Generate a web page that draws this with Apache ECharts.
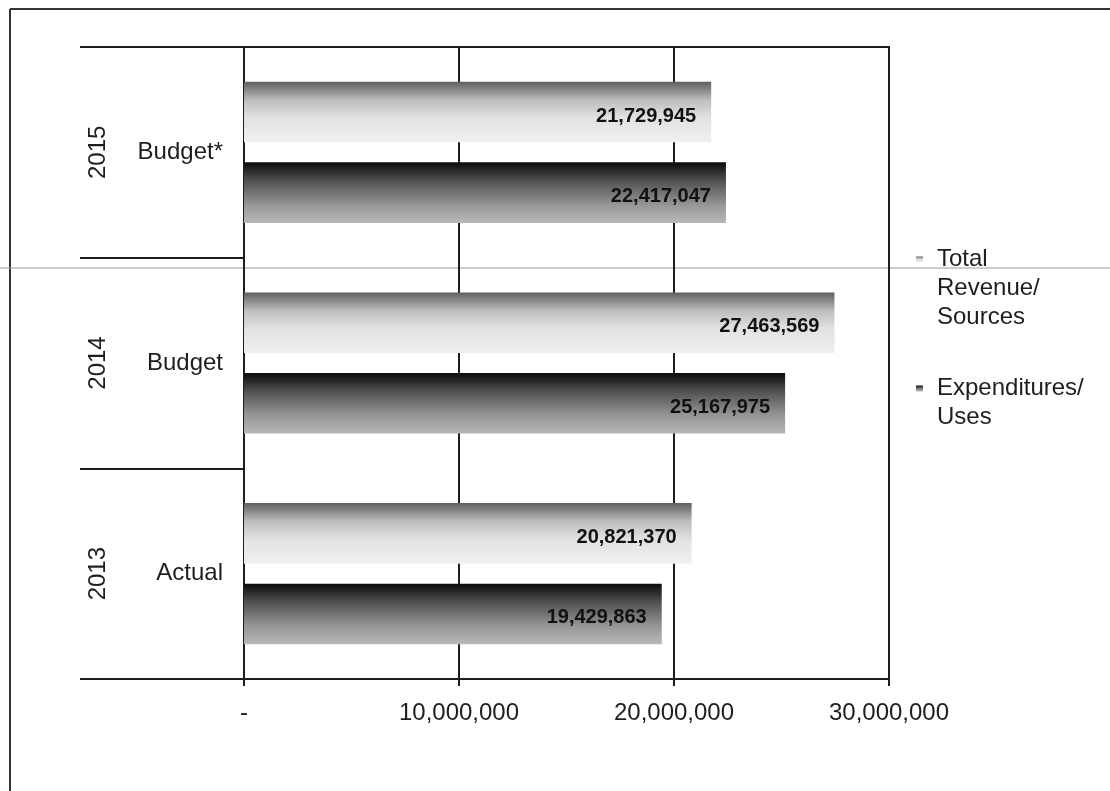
<!DOCTYPE html>
<html><head><meta charset="utf-8">
<script src="https://cdn.jsdelivr.net/npm/echarts@6/dist/echarts.min.js"></script>
<style>html,body{margin:0;padding:0;background:#fff}#c{width:1110px;height:791px}</style>
</head><body><div id="c"></div>
<script>
const years = ['2013', '2014', '2015'];
const types = ['Actual', 'Budget', 'Budget*'];
const revenue = [20821370, 27463569, 21729945];
const expenditures = [19429863, 25167975, 22417047];
const xTickLabels = ['-', '10,000,000', '20,000,000', '30,000,000'];
const seriesNames = ['Total\nRevenue/\nSources', 'Expenditures/\nUses'];

const FONT = 'Liberation Sans, Arial, sans-serif';
const INK = '#1e1e1e';

const revGrad = new echarts.graphic.LinearGradient(0, 0, 0, 1, [
  {offset: 0, color: '#5e5e5e'}, {offset: 0.3, color: '#bdbdbd'},
  {offset: 0.6, color: '#e2e2e2'}, {offset: 1, color: '#f0f0f0'}]);
const expGrad = new echarts.graphic.LinearGradient(0, 0, 0, 1, [
  {offset: 0, color: '#0a0a0a'}, {offset: 0.3, color: '#505050'},
  {offset: 0.7, color: '#969696'}, {offset: 1, color: '#b8b8b8'}]);

const chart = echarts.init(document.getElementById('c'));
const barLabel = {
  show: true, position: 'insideRight', distance: 15, offset: [0, 4],
  fontFamily: FONT, fontSize: 20, fontWeight: 'bold', color: '#111',
  formatter: p => p.value.toLocaleString('en-US')
};
// blank lines above each legend name so the small marker sits beside the first line
function legendText(name) {
  const n = name.split('\n').length;
  return '\u00a0\n'.repeat(n - 1) + name;
}
chart.setOption({
  animation: false,
  backgroundColor: '#fff',
  textStyle: {fontFamily: FONT},
  grid: {left: 244, right: 221, top: 47, bottom: 112, show: true,
         borderColor: INK, borderWidth: 2, backgroundColor: 'transparent'},
  legend: {
    orient: 'vertical', left: 911, top: 182, itemWidth: 7, itemHeight: 6,
    itemGap: 13, icon: 'rect',
    formatter: legendText,
    textStyle: {fontFamily: FONT, fontSize: 24, color: INK, lineHeight: 29, padding: [0, 0, 0, 9]},
    data: seriesNames
  },
  xAxis: {
    type: 'value', min: 0, max: 30000000, interval: 10000000,
    axisLine: {show: true, lineStyle: {color: INK, width: 2}},
    axisTick: {show: true, length: 7, lineStyle: {color: INK, width: 2}},
    splitLine: {show: true, lineStyle: {color: INK, width: 2}},
    axisLabel: {margin: 22, fontSize: 24, color: INK, fontFamily: FONT,
      formatter: v => xTickLabels[Math.round(v / 10000000)]}
  },
  yAxis: [{
    type: 'category', data: types,
    axisLine: {show: true, lineStyle: {color: INK, width: 2}},
    axisTick: {show: true, length: 164, lineStyle: {color: INK, width: 2}},
    axisLabel: {margin: 21, fontSize: 24, color: INK, fontFamily: FONT}
  }, {
    type: 'category', data: years, position: 'left', offset: 0,
    axisLine: {show: false}, axisTick: {show: false},
    axisLabel: {rotate: 90, margin: 134, fontSize: 24, color: INK, fontFamily: FONT}
  }],
  graphic: [
    {type: 'line', shape: {x1: 10, y1: 9, x2: 1110, y2: 9}, style: {stroke: '#333', lineWidth: 2}},
    {type: 'line', shape: {x1: 10, y1: 9, x2: 10, y2: 791}, style: {stroke: '#333', lineWidth: 2}},
    {type: 'line', shape: {x1: 0, y1: 268, x2: 1110, y2: 268}, style: {stroke: '#9a9a9a', lineWidth: 1}}
  ],
  series: [{
    name: seriesNames[0], type: 'bar', data: revenue,
    itemStyle: {color: revGrad}, barCategoryGap: '33%', barGap: '33%',
    label: barLabel
  }, {
    name: seriesNames[1], type: 'bar', data: expenditures,
    itemStyle: {color: expGrad}, barCategoryGap: '33%', barGap: '33%',
    label: barLabel
  }]
});
</script></body></html>
